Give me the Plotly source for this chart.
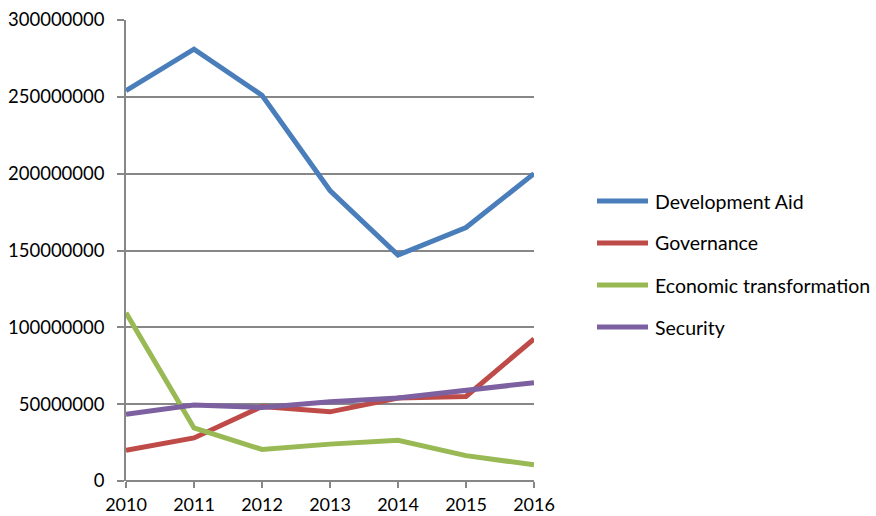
import plotly.graph_objects as go

years = ["2010", "2011", "2012", "2013", "2014", "2015", "2016"]

development_aid = [254000000, 281000000, 251000000, 189000000, 147000000, 165000000, 200000000]
governance = [20000000, 28000000, 48500000, 45000000, 54000000, 55000000, 92500000]
economic_transformation = [109500000, 34500000, 20500000, 24000000, 26500000, 16500000, 10500000]
security = [43500000, 49500000, 47800000, 51500000, 54000000, 58700000, 64000000]

series_names = ["Development Aid", "Governance", "Economic transformation", "Security"]
series_values = [development_aid, governance, economic_transformation, security]
series_colors = ["#4A7EBB", "#BE4B48", "#98B954", "#7D60A0"]

font_family = "Lato, 'Open Sans', sans-serif"
grid_color = "#878787"

# plot area in pixels
W, H = 876, 516
L, R, T, B = 126, 342, 20, 35
PW, PH = W - L - R, H - T - B


def px_to_paper(px, py):
    return (px - L) / PW, (H - B - py) / PH


fig = go.Figure()
for name, values, color in zip(series_names, series_values, series_colors):
    fig.add_trace(go.Scatter(
        x=years, y=values, name=name, mode="lines",
        line=dict(color=color, width=5),
    ))

# legend at the right: a short swatch line and a label per series
legend_top, legend_step = 201, 42
for i, (name, color) in enumerate(zip(series_names, series_colors)):
    py = legend_top + i * legend_step
    x0, y0 = px_to_paper(597, py)
    x1, _ = px_to_paper(648, py)
    tx, _ = px_to_paper(653, py)
    fig.add_shape(
        type="line", xref="paper", yref="paper",
        x0=x0, x1=x1, y0=y0, y1=y0,
        line=dict(color=color, width=5), layer="above",
    )
    fig.add_annotation(
        xref="paper", yref="paper", x=tx, y=y0,
        xanchor="left", yanchor="middle", showarrow=False,
        text=name, font=dict(family=font_family, size=19.5, color="black"),
    )

fig.update_layout(
    width=W, height=H,
    margin=dict(l=L, r=R, t=T, b=B),
    paper_bgcolor="white", plot_bgcolor="white",
    font=dict(family=font_family, size=18, color="black"),
    showlegend=False,
)

fig.update_xaxes(
    type="category", range=[0, 6], automargin=False,
    showgrid=False, showline=False, zeroline=False,
    ticks="outside", ticklen=6, tickcolor=grid_color, tickwidth=1.5,
    tickfont=dict(size=18), ticklabelstandoff=1,
)
fig.update_yaxes(
    range=[0, 300000000], dtick=50000000, tickformat="d", automargin=False,
    showgrid=True, gridcolor=grid_color, gridwidth=1.5,
    showline=True, linecolor=grid_color, linewidth=1.5,
    zeroline=True, zerolinecolor=grid_color, zerolinewidth=1.5,
    ticks="outside", ticklen=7, tickcolor=grid_color, tickwidth=1.5,
    tickfont=dict(size=18.5), ticklabelstandoff=9,
)

fig.write_html("out.html")
